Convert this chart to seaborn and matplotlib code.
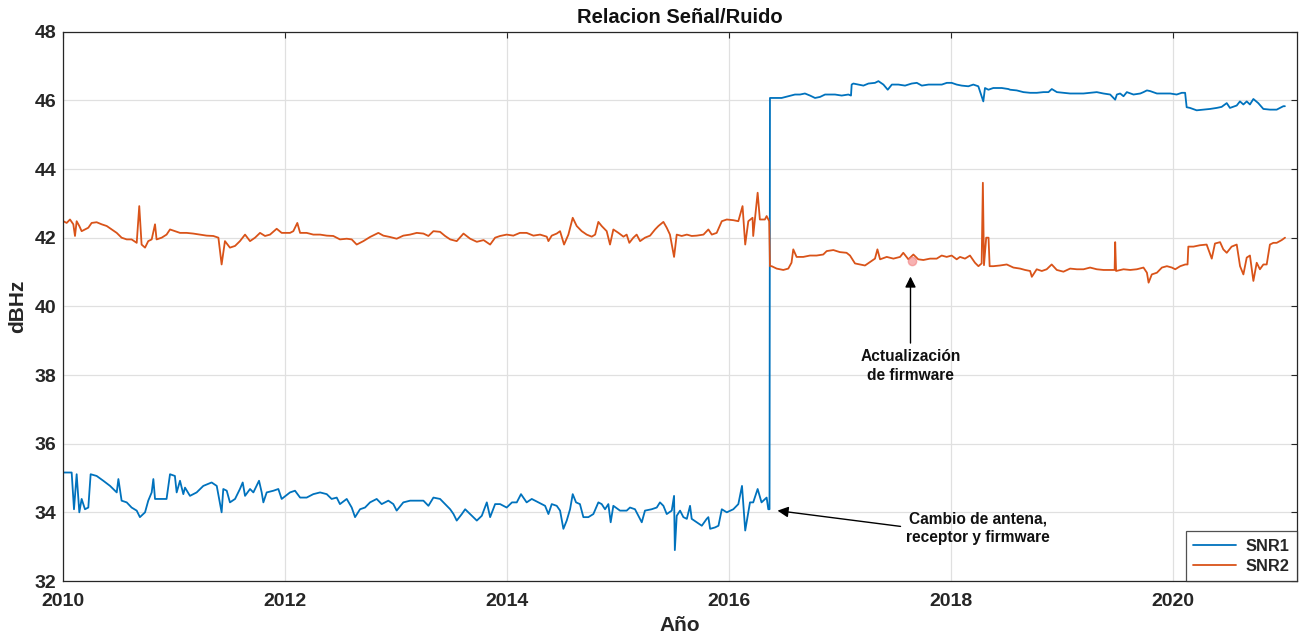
import matplotlib
matplotlib.use("Agg")
import matplotlib.pyplot as plt
import seaborn as sns
import pandas as pd

# ---------------- data ----------------
snr1_year = [
    2010.003, 2010.078, 2010.099, 2010.123, 2010.147, 2010.168, 2010.198, 2010.228, 2010.249, 2010.303,
    2010.363, 2010.424, 2010.484, 2010.499, 2010.528, 2010.574, 2010.618, 2010.664, 2010.693, 2010.739,
    2010.768, 2010.799, 2010.814, 2010.829, 2010.874, 2010.933, 2010.964, 2011.008, 2011.024, 2011.054,
    2011.084, 2011.099, 2011.144, 2011.204, 2011.264, 2011.339, 2011.385, 2011.429, 2011.444, 2011.475,
    2011.504, 2011.550, 2011.594, 2011.619, 2011.640, 2011.685, 2011.715, 2011.766, 2011.790, 2011.805,
    2011.835, 2011.896, 2011.940, 2011.970,
    2012.045, 2012.090, 2012.136, 2012.195, 2012.255, 2012.316, 2012.376, 2012.420, 2012.466, 2012.495,
    2012.556, 2012.601, 2012.631, 2012.676, 2012.721, 2012.766, 2012.826, 2012.871, 2012.931, 2012.976,
    2013.006, 2013.066, 2013.127, 2013.187, 2013.247, 2013.292, 2013.337, 2013.397, 2013.442, 2013.488,
    2013.518, 2013.547, 2013.593, 2013.623, 2013.668, 2013.728, 2013.773, 2013.818, 2013.848, 2013.893,
    2013.938, 2013.997, 2014.045, 2014.088, 2014.126,
    2014.177, 2014.223, 2014.283, 2014.343, 2014.373, 2014.403, 2014.448, 2014.478, 2014.508, 2014.538,
    2014.568, 2014.592, 2014.622, 2014.657, 2014.688, 2014.733, 2014.778, 2014.823, 2014.853, 2014.883,
    2014.913, 2014.934, 2014.958, 2015.018, 2015.078, 2015.108, 2015.153, 2015.214, 2015.243, 2015.303,
    2015.349, 2015.378, 2015.409, 2015.439, 2015.484, 2015.505, 2015.512, 2015.529, 2015.559, 2015.589,
    2015.620, 2015.649, 2015.664, 2015.709, 2015.755, 2015.799, 2015.814, 2015.830, 2015.874, 2015.905,
    2015.935, 2015.980, 2016.039, 2016.084, 2016.117, 2016.146, 2016.189, 2016.218, 2016.258, 2016.293,
    2016.339, 2016.354, 2016.365,
    2016.369, 2016.414, 2016.474, 2016.534, 2016.594, 2016.640, 2016.684, 2016.730, 2016.775, 2016.820,
    2016.865, 2016.910, 2016.955, 2017.015, 2017.075, 2017.099, 2017.105, 2017.120, 2017.165, 2017.211,
    2017.256, 2017.315, 2017.346, 2017.391, 2017.430, 2017.467, 2017.526, 2017.586, 2017.646, 2017.692,
    2017.737, 2017.797, 2017.857, 2017.917, 2017.962, 2018.006, 2018.051, 2018.096, 2018.156, 2018.201,
    2018.246, 2018.291, 2018.306, 2018.337, 2018.381, 2018.457, 2018.517,
    2018.532, 2018.592, 2018.652, 2018.713, 2018.773, 2018.833, 2018.878, 2018.908, 2018.954, 2019.013,
    2019.073, 2019.133, 2019.193, 2019.253, 2019.313, 2019.373, 2019.434, 2019.479, 2019.494, 2019.524,
    2019.554, 2019.584, 2019.644, 2019.705, 2019.734, 2019.765, 2019.794, 2019.855, 2019.915, 2019.975,
    2020.033, 2020.079, 2020.109, 2020.123, 2020.153, 2020.213, 2020.273, 2020.334, 2020.394, 2020.438,
    2020.484, 2020.513, 2020.574, 2020.603, 2020.634, 2020.664, 2020.693, 2020.724, 2020.768, 2020.814,
    2020.874, 2020.934, 2020.994, 2021.008,
]
snr1_dbhz = [
    35.16, 35.16, 34.09, 35.11, 34.00, 34.39, 34.09, 34.14, 35.11, 35.06,
    34.92, 34.77, 34.58, 34.97, 34.34, 34.29, 34.14, 34.05, 33.86, 34.00,
    34.34, 34.58, 34.97, 34.39, 34.39, 34.39, 35.11, 35.06, 34.58, 34.92,
    34.53, 34.72, 34.48, 34.58, 34.77, 34.87, 34.77, 34.00, 34.68, 34.63,
    34.29, 34.39, 34.68, 34.87, 34.48, 34.68, 34.58, 34.92, 34.58, 34.29,
    34.58, 34.63, 34.68, 34.39,
    34.58, 34.63, 34.43, 34.43, 34.53, 34.58, 34.53, 34.39, 34.43, 34.24,
    34.39, 34.14, 33.86, 34.09, 34.14, 34.29, 34.39, 34.24, 34.34, 34.24,
    34.05, 34.29, 34.34, 34.34, 34.34, 34.19, 34.43, 34.39, 34.24, 34.09,
    33.95, 33.76, 33.95, 34.09, 33.95, 33.76, 33.90, 34.29, 33.86, 34.24,
    34.24, 34.14, 34.29, 34.29, 34.53,
    34.29, 34.39, 34.29, 34.19, 33.95, 34.24, 34.19, 34.05, 33.52, 33.76,
    34.09, 34.53, 34.29, 34.24, 33.86, 33.86, 33.95, 34.29, 34.24, 34.09,
    34.24, 33.71, 34.19, 34.05, 34.05, 34.14, 34.09, 33.71, 34.05, 34.09,
    34.14, 34.29, 34.19, 33.95, 34.05, 34.48, 32.90, 33.90, 34.05, 33.86,
    33.81, 34.19, 33.81, 33.71, 33.61, 33.81, 33.86, 33.52, 33.56, 33.61,
    34.09, 34.00, 34.09, 34.24, 34.77, 33.47, 34.29, 34.29, 34.68, 34.29,
    34.43, 34.09, 34.09,
    46.07, 46.07, 46.07, 46.12, 46.17, 46.17, 46.20, 46.14, 46.07, 46.10,
    46.17, 46.17, 46.17, 46.14, 46.17, 46.14, 46.46, 46.49, 46.46, 46.43,
    46.49, 46.51, 46.56, 46.46, 46.31, 46.46, 46.46, 46.43, 46.49, 46.51,
    46.43, 46.46, 46.46, 46.46, 46.51, 46.51, 46.46, 46.43, 46.41, 46.46,
    46.41, 45.97, 46.36, 46.31, 46.36, 46.36, 46.33,
    46.31, 46.29, 46.24, 46.22, 46.22, 46.24, 46.24, 46.33, 46.24, 46.22,
    46.20, 46.20, 46.20, 46.22, 46.24, 46.20, 46.17, 46.02, 46.17, 46.20,
    46.12, 46.24, 46.17, 46.20, 46.24, 46.29, 46.27, 46.20, 46.20, 46.20,
    46.17, 46.22, 46.22, 45.80, 45.78, 45.71, 45.73, 45.75, 45.78, 45.81,
    45.92, 45.78, 45.85, 45.97, 45.88, 45.97, 45.88, 46.04, 45.92, 45.75,
    45.73, 45.73, 45.83, 45.83,
]

snr2_year = [
    2010.003, 2010.033, 2010.063, 2010.093, 2010.108, 2010.123, 2010.147, 2010.168, 2010.198, 2010.228,
    2010.258, 2010.303, 2010.348, 2010.394, 2010.439, 2010.484, 2010.528, 2010.574, 2010.618, 2010.664,
    2010.687, 2010.708, 2010.739, 2010.768, 2010.799, 2010.829, 2010.843, 2010.889, 2010.933, 2010.964,
    2011.008, 2011.054, 2011.114, 2011.173, 2011.234, 2011.294, 2011.354, 2011.400, 2011.429, 2011.459,
    2011.504, 2011.550, 2011.594, 2011.640, 2011.685, 2011.730, 2011.775, 2011.820, 2011.865, 2011.925,
    2011.970,
    2012.045, 2012.075, 2012.111, 2012.136, 2012.195, 2012.255, 2012.316, 2012.376, 2012.435, 2012.495,
    2012.556, 2012.601, 2012.646, 2012.706, 2012.766, 2012.841, 2012.886, 2012.946, 2013.006, 2013.066,
    2013.127, 2013.187, 2013.247, 2013.292, 2013.337, 2013.397, 2013.442, 2013.488, 2013.547, 2013.608,
    2013.668, 2013.728, 2013.789, 2013.848, 2013.893, 2013.938, 2013.997, 2014.057, 2014.116,
    2014.177, 2014.238, 2014.298, 2014.358, 2014.373, 2014.403, 2014.448, 2014.478, 2014.514, 2014.553,
    2014.592, 2014.628, 2014.673, 2014.718, 2014.763, 2014.794, 2014.823, 2014.853, 2014.898, 2014.928,
    2014.958, 2015.004, 2015.049, 2015.078, 2015.102, 2015.138, 2015.168, 2015.199, 2015.243, 2015.289,
    2015.334, 2015.364, 2015.409, 2015.439, 2015.468, 2015.505, 2015.529, 2015.574, 2015.620, 2015.664,
    2015.709, 2015.770, 2015.814, 2015.845, 2015.889, 2015.935, 2015.980, 2016.039, 2016.084, 2016.122,
    2016.146, 2016.174, 2016.212, 2016.218, 2016.258, 2016.278, 2016.323, 2016.339, 2016.362,
    2016.369, 2016.384, 2016.429, 2016.489, 2016.534, 2016.563, 2016.579, 2016.609, 2016.669, 2016.729,
    2016.789, 2016.849, 2016.880, 2016.940, 2016.999, 2017.059, 2017.090, 2017.135, 2017.180, 2017.225,
    2017.270, 2017.315, 2017.337, 2017.361, 2017.421, 2017.481, 2017.541, 2017.570, 2017.616, 2017.661,
    2017.705, 2017.751, 2017.811, 2017.871, 2017.916, 2017.961, 2018.006, 2018.051, 2018.081, 2018.126,
    2018.171, 2018.216, 2018.247, 2018.276, 2018.287, 2018.297, 2018.317, 2018.338, 2018.348, 2018.381,
    2018.441, 2018.502, 2018.562,
    2018.622, 2018.667, 2018.713, 2018.728, 2018.772, 2018.818, 2018.862, 2018.907, 2018.953, 2019.013,
    2019.073, 2019.134, 2019.194, 2019.253, 2019.313, 2019.374, 2019.434, 2019.474, 2019.479, 2019.487,
    2019.554, 2019.614, 2019.674, 2019.734, 2019.765, 2019.780, 2019.809, 2019.855, 2019.900, 2019.945,
    2019.990, 2020.020, 2020.065, 2020.110, 2020.131, 2020.138, 2020.184, 2020.243, 2020.303, 2020.349,
    2020.378, 2020.424, 2020.453, 2020.484, 2020.528, 2020.574, 2020.604, 2020.634, 2020.664, 2020.693,
    2020.724, 2020.754, 2020.783, 2020.814, 2020.844, 2020.873, 2020.904, 2020.934, 2020.979, 2021.009,
]
snr2_dbhz = [
    42.48, 42.43, 42.53, 42.39, 42.05, 42.48, 42.34, 42.19, 42.24, 42.29,
    42.43, 42.45, 42.39, 42.34, 42.24, 42.14, 42.00, 41.95, 41.95, 41.85,
    42.92, 41.80, 41.71, 41.90, 41.95, 42.39, 41.95, 42.00, 42.09, 42.24,
    42.19, 42.14, 42.14, 42.12, 42.09, 42.06, 42.05, 42.00, 41.22, 41.90,
    41.71, 41.76, 41.90, 42.09, 41.90, 42.00, 42.14, 42.05, 42.09, 42.26,
    42.14,
    42.14, 42.19, 42.43, 42.14, 42.14, 42.09, 42.09, 42.06, 42.05, 41.95,
    41.97, 41.95, 41.80, 41.90, 42.02, 42.14, 42.06, 42.02, 41.97, 42.06,
    42.09, 42.14, 42.12, 42.05, 42.19, 42.17, 42.05, 41.95, 41.90, 42.12,
    41.97, 41.88, 41.93, 41.80, 42.00, 42.05, 42.09, 42.06, 42.14,
    42.14, 42.06, 42.09, 42.03, 41.90, 42.06, 42.12, 42.19, 41.80, 42.09,
    42.58, 42.34, 42.19, 42.09, 42.03, 42.09, 42.46, 42.34, 42.19, 41.80,
    42.24, 42.14, 42.03, 42.09, 41.85, 42.00, 42.09, 41.90, 42.00, 42.06,
    42.24, 42.34, 42.46, 42.29, 42.09, 41.44, 42.09, 42.05, 42.09, 42.05,
    42.06, 42.09, 42.24, 42.09, 42.14, 42.48, 42.53, 42.51, 42.48, 42.92,
    41.80, 42.48, 42.58, 42.05, 43.31, 42.53, 42.53, 42.63, 42.48,
    41.17, 41.17, 41.10, 41.06, 41.10, 41.27, 41.66, 41.44, 41.44, 41.48,
    41.48, 41.51, 41.61, 41.64, 41.58, 41.56, 41.48, 41.25, 41.22, 41.19,
    41.29, 41.39, 41.66, 41.37, 41.44, 41.39, 41.44, 41.56, 41.37, 41.51,
    41.37, 41.35, 41.39, 41.39, 41.48, 41.44, 41.48, 41.37, 41.44, 41.39,
    41.48, 41.27, 41.17, 41.25, 43.60, 41.20, 42.00, 42.00, 41.17, 41.17,
    41.19, 41.22, 41.13,
    41.10, 41.06, 41.03, 40.86, 41.08, 41.03, 41.08, 41.22, 41.06, 41.01,
    41.10, 41.08, 41.08, 41.13, 41.08, 41.06, 41.06, 41.06, 41.87, 41.03,
    41.08, 41.06, 41.08, 41.13, 40.98, 40.69, 40.93, 40.98, 41.13, 41.17,
    41.13, 41.08, 41.17, 41.22, 41.22, 41.74, 41.74, 41.78, 41.80, 41.39,
    41.83, 41.87, 41.66, 41.56, 41.74, 41.80, 41.17, 40.93, 41.42, 41.48,
    40.74, 41.27, 41.08, 41.22, 41.22, 41.80, 41.85, 41.85, 41.93, 42.00,
]

series_names = ["SNR1", "SNR2"]
series_colors = ["#0072BD", "#D95319"]
title_text = "Relacion Señal/Ruido"
xlabel_text = "Año"
ylabel_text = "dBHz"
x_ticks = [2010, 2012, 2014, 2016, 2018, 2020]
y_ticks = [32, 34, 36, 38, 40, 42, 44, 46, 48]
note1_text = "Actualización\nde firmware"
note1_point = (2017.635, 40.95)
note1_tail = (2017.635, 38.85)
marker_point = (2017.646, 41.32)
note2_text = "Cambio de antena,\nreceptor y firmware"
note2_point = (2016.412, 34.06)
note2_tail = (2017.570, 33.58)
note2_pos = (2018.246, 33.53)

# ---------------- figure ----------------
sns.set_theme(style="white")
plt.rcParams["font.family"] = ["Liberation Sans", "DejaVu Sans"]
plt.rcParams["font.weight"] = "bold"

fig = plt.figure(figsize=(12.99, 6.41), dpi=100)
ax = fig.add_axes([63 / 1299, 1 - 581 / 641, (1297 - 63) / 1299, (581 - 31.7) / 641])

df1 = pd.DataFrame({"Año": snr1_year, "dBHz": snr1_dbhz})
df2 = pd.DataFrame({"Año": snr2_year, "dBHz": snr2_dbhz})
sns.lineplot(data=df1, x="Año", y="dBHz", ax=ax, color=series_colors[0], lw=1.3,
             estimator=None, sort=False, label=series_names[0])
sns.lineplot(data=df2, x="Año", y="dBHz", ax=ax, color=series_colors[1], lw=1.3,
             estimator=None, sort=False, label=series_names[1])

ax.plot([marker_point[0]], [marker_point[1]], "o", color="#f28080", alpha=0.6, ms=6, zorder=3)

ax.set_xlim(2010, 2021.117)
ax.set_ylim(32, 48)
ax.set_xticks(x_ticks)
ax.set_xticklabels([str(t) for t in x_ticks])
ax.set_yticks(y_ticks)
ax.grid(True, color="#e0e0e0", lw=0.9)
ax.set_axisbelow(True)
for s in ax.spines.values():
    s.set_visible(True)
    s.set_color("#262626")
    s.set_linewidth(0.9)
ax.tick_params(direction="in", length=4, width=0.8, top=True, right=True,
               labelsize=14, colors="#262626")
ax.tick_params(axis="x", pad=9)
ax.tick_params(axis="y", pad=5)
for lab in ax.get_xticklabels() + ax.get_yticklabels():
    lab.set_fontweight("bold")
    lab.set_color("#262626")

ax.set_title(title_text, fontsize=14.5, fontweight="bold", pad=6, color="#111111")
ax.set_xlabel(xlabel_text, fontsize=15, fontweight="bold", labelpad=4, color="#262626")
ax.set_ylabel(ylabel_text, fontsize=15, fontweight="bold", labelpad=5, color="#262626")

ax.annotate("", xy=note1_point, xytext=note1_tail,
            arrowprops=dict(arrowstyle="-|>", color="black", lw=1.0, mutation_scale=16))
ax.text(note1_tail[0], note1_tail[1] - 0.1, note1_text, ha="center", va="top",
        fontsize=11.2, fontweight="bold", color="#111111", linespacing=1.3)
ax.annotate("", xy=note2_point, xytext=note2_tail,
            arrowprops=dict(arrowstyle="-|>", color="black", lw=1.0, mutation_scale=16))
ax.text(note2_pos[0], note2_pos[1], note2_text, ha="center", va="center",
        fontsize=11.2, fontweight="bold", color="#111111", linespacing=1.3)

leg = ax.legend(loc="lower right", borderaxespad=0.0, fancybox=False, frameon=True,
                prop={"weight": "bold", "size": 11.8}, handlelength=2.6, borderpad=0.45,
                labelspacing=0.3, handletextpad=0.6)
leg.get_frame().set_edgecolor("#262626")
leg.get_frame().set_linewidth(0.9)
for line in leg.get_lines():
    line.set_linewidth(1.3)

fig.savefig("out.png", dpi=100)
